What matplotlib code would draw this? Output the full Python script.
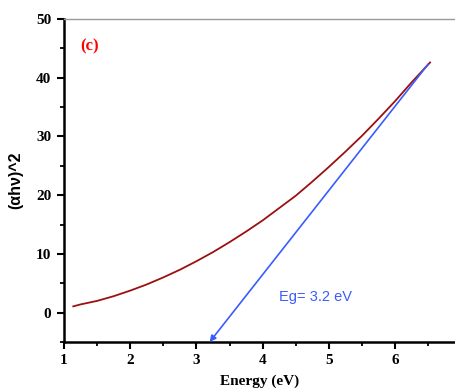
import matplotlib
matplotlib.use("Agg")
import matplotlib.pyplot as plt
from matplotlib.ticker import MultipleLocator

# Data
energy = [1.14, 1.25, 1.5, 1.75, 2.0, 2.25, 2.5, 2.75, 3.0, 3.25, 3.5, 3.75,
          4.0, 4.25, 4.5, 4.75, 5.0, 5.25, 5.5, 5.75, 6.0, 6.25, 6.53]
ahv2 = [1.07, 1.4, 2.0, 2.8, 3.75, 4.8, 6.0, 7.3, 8.75, 10.3, 12.0, 13.8,
        15.7, 17.8, 19.9, 22.3, 24.8, 27.4, 30.1, 33.0, 36.0, 39.2, 42.6]
arrow_start = (6.5, 42.3)
arrow_end = (3.2, -5.0)
eg_label = "Eg= 3.2 eV"
panel_label = "(c)"
xticks = [1, 2, 3, 4, 5, 6]
yticks = [0, 10, 20, 30, 40, 50]

fig = plt.figure(figsize=(4.55, 3.89), dpi=100)
ax = fig.add_axes([64/455, 47/389, 1 - 64/455, (342 - 19)/389])

ax.plot(energy, ahv2, color="#9b1010", lw=1.3)
ax.annotate("", xy=arrow_end, xytext=arrow_start,
            arrowprops=dict(arrowstyle="-|>", color="#3a5cff", lw=1.2,
                            mutation_scale=9, shrinkA=0, shrinkB=0))
ax.text(4.25, 2.7, eg_label, color="#3a5cff", fontsize=10.5,
        family="Liberation Sans", ha="left", va="center")
ax.text(1.24, 45.3, panel_label, color="red", fontsize=12, fontweight="bold",
        family="Liberation Serif", ha="left", va="center")

ax.set_xlim(1, 1 + (455 - 64) / 66.2)
ax.set_ylim(-5, 50)
ax.set_xticks(xticks)
ax.set_yticks(yticks)
ax.xaxis.set_minor_locator(MultipleLocator(0.5))
ax.yaxis.set_minor_locator(MultipleLocator(5))
ax.tick_params(which="major", direction="out", length=5, width=1.5,
               labelsize=11, pad=4)
ax.tick_params(which="minor", direction="out", length=3, width=1.3)
for lbl in ax.get_xticklabels() + ax.get_yticklabels():
    lbl.set_fontfamily("Liberation Serif")
    lbl.set_fontweight("bold")

ax.spines["right"].set_visible(False)
ax.spines["top"].set_color("#999999")
ax.spines["top"].set_linewidth(1.0)
ax.spines["left"].set_linewidth(1.8)
ax.spines["bottom"].set_linewidth(1.8)

ax.set_xlabel("Energy (eV)", fontsize=11, fontweight="bold",
              family="Liberation Serif", labelpad=5)
ax.set_ylabel("(\u03b1h\u03bd)^2", fontsize=11.5, fontweight="bold",
              family="Liberation Sans", labelpad=9)

fig.savefig("out.png", dpi=100)
